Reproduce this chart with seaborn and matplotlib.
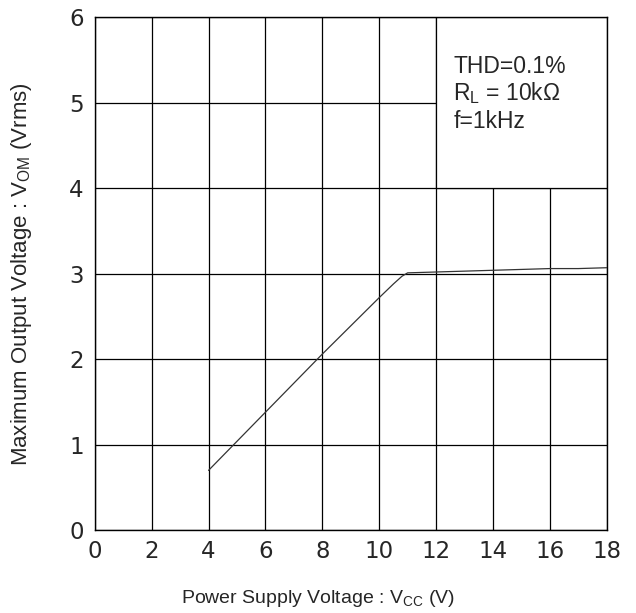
import pandas as pd
import seaborn as sns
import matplotlib
matplotlib.use("Agg")
import matplotlib.pyplot as plt
from matplotlib.patches import Rectangle

# Power supply voltage (V) and max output voltage (Vrms)
vcc = [4, 5, 6, 7, 8, 9, 10, 10.5, 10.8, 11, 12, 13, 14, 15, 16, 17, 18]
vom = [0.70, 1.04, 1.38, 1.72, 2.06, 2.39, 2.72, 2.88, 2.97, 3.01, 3.02, 3.03, 3.04, 3.05, 3.06, 3.06, 3.07]

x_ticks = [0, 2, 4, 6, 8, 10, 12, 14, 16, 18]
y_ticks = [0, 1, 2, 3, 4, 5, 6]
notes = ["THD=0.1%", "R$_{\\mathrm{L}}$ = 10kΩ", "f=1kHz"]


def main():
    sns.set_style("white")
    plt.rcParams["font.family"] = ["Liberation Sans", "DejaVu Sans"]
    plt.rcParams["mathtext.fontset"] = "custom"
    plt.rcParams["mathtext.rm"] = "Liberation Sans"

    df = pd.DataFrame({"Vcc": vcc, "Vom": vom})

    fig = plt.figure(figsize=(6.36, 6.13), dpi=100)
    ax = fig.add_axes([0.149, 0.135, 0.805, 0.837])

    sns.lineplot(data=df, x="Vcc", y="Vom", ax=ax, color="#333333", linewidth=0.9, zorder=3)

    ax.set_xlim(0, 18)
    ax.set_ylim(0, 6)
    ax.set_xticks(x_ticks)
    ax.set_yticks(y_ticks)
    ax.grid(True, color="black", linewidth=0.9)
    ax.set_axisbelow(True)
    for s in ax.spines.values():
        s.set_color("black")
        s.set_linewidth(1.0)
    ax.tick_params(axis="x", length=0, pad=7)
    ax.tick_params(axis="y", length=0, pad=8)
    for lbl in ax.get_xticklabels() + ax.get_yticklabels():
        lbl.set_fontfamily("DejaVu Sans")
        lbl.set_fontsize(16.5)

    # condition box in the upper right corner
    ax.add_patch(Rectangle((12, 4), 6, 2, facecolor="white", edgecolor="black",
                           linewidth=0.9, zorder=2))
    for i, t in enumerate(notes):
        ax.text(12.6, 5.345 - i * 0.318, t, fontsize=16.5, va="baseline", ha="left", zorder=4)

    ax.set_xlabel("Power Supply Voltage : V$_{\\mathrm{CC}}$ (V)", fontsize=14, labelpad=18)
    ax.xaxis.label.set_x(0.435)  # centred on the figure, not the axes
    ax.set_ylabel("Maximum Output Voltage : V$_{\\mathrm{OM}}$ (Vrms)", fontsize=16, labelpad=25)

    fig.savefig("out.png", dpi=100)


if __name__ == "__main__":
    main()
